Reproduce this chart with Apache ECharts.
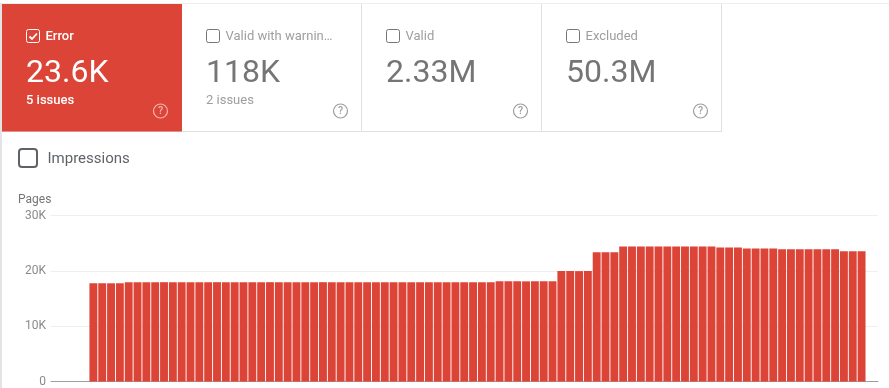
<!DOCTYPE html>
<html>
<head>
<meta charset="utf-8">
<style>html,body{margin:0;padding:0;background:#fff}#c{width:889px;height:388px}</style>
<script src="https://cdn.jsdelivr.net/npm/echarts@6/dist/echarts.min.js"></script>
</head>
<body>
<div id="c"></div>
<script>
const cardLabels = ['Error', 'Valid with warnin…', 'Valid', 'Excluded'];
const cardValues = ['23.6K', '118K', '2.33M', '50.3M'];
const cardNotes = ['5 issues', '2 issues', '', ''];
const yAxisTitle = 'Pages';
const yTickLabels = {0: '0', 10000: '10K', 20000: '20K', 30000: '30K'};
const pages = [
  17750,17750,17750,17750,
  17950,17950,17950,17950,17950,17950,17950,17950,17950,17950,17950,17950,17950,17950,
  17950,17950,17950,17950,17950,17950,17950,17950,17950,17950,17950,17950,17950,17950,
  17950,17950,17950,17950,17950,17950,17950,17950,17950,17950,17950,17950,17950,17950,
  18100,18100,18100,18100,18100,18100,18100,
  19950,19950,19950,19950,
  23350,23350,23350,
  24400,24400,24400,24400,24400,24400,24400,24400,24400,24400,24400,
  24200,24200,24200,
  24050,24050,24050,24050,
  23900,23900,23900,23900,23900,23900,23900,
  23550,23550,23550
];

const RED = '#dd4438';
const LINE = '#e0e0e0';
const FONT = 'Roboto, sans-serif';
const els = [];
function rect(x, y, w, h, fill, extra) {
  els.push(Object.assign({type: 'rect', silent: true, shape: {x, y, width: w, height: h},
    style: {fill}}, extra || {}));
}
function text(t, x, y, font, fill) {
  els.push({type: 'text', silent: true, style: {text: t, x, y, font: font + ' ' + FONT, fill,
    textAlign: 'left', textVerticalAlign: 'middle'}});
}
function box(x, y, s, r, stroke, lw) {
  els.push({type: 'rect', silent: true, shape: {x, y, width: s, height: s, r},
    style: {fill: 'transparent', stroke, lineWidth: lw}});
}

rect(0, 3, 889, 1, '#eeeeee');
rect(0, 3, 2, 385, '#e4e4e4');
rect(2, 131, 720, 1, LINE);
rect(2, 4, 180, 127.5, RED);
[361, 541, 721].forEach(x => rect(x, 4, 1, 127, LINE));

cardLabels.forEach((label, i) => {
  const dx = 180 * i, on = i === 0;
  const main = on ? '#ffffff' : '#757575';
  box(26.5 + dx, 29.5, 13, 2, on ? '#ffffff' : '#757575', 1);
  if (on) {
    els.push({type: 'polyline', silent: true, shape: {points: [[29.5, 36.5], [32, 39], [37, 33.5]]},
      style: {stroke: '#fff', lineWidth: 1.8, fill: 'none'}});
  }
  text(label, 45.5 + dx, 37, (on ? '500 ' : '400 ') + '13px', on ? '#ffffff' : '#9e9e9e');
  text(cardValues[i], 26 + dx, 73.5, '400 32px', main);
  if (cardNotes[i]) text(cardNotes[i], 26 + dx, 100.5, (on ? '500 ' : '400 ') + '13px', on ? '#ffffff' : '#9e9e9e');
  const hc = on ? 'rgba(255,255,255,0.6)' : '#9e9e9e';
  els.push({type: 'circle', silent: true, shape: {cx: 160.5 + dx, cy: 111, r: 7},
    style: {fill: 'transparent', stroke: hc, lineWidth: 1.2}});
  els.push({type: 'text', silent: true, style: {text: '?', x: 160.5 + dx, y: 111.5, font: '500 10.5px ' + FONT,
    fill: hc, textAlign: 'center', textVerticalAlign: 'middle'}});
});

box(19, 149, 18, 3, '#5f6368', 2);
text('Impressions', 47.5, 159, '400 15px', '#5f6368');
text(yAxisTitle, 18, 199.5, '400 12px', '#757575');

const chart = echarts.init(document.getElementById('c'), null, {renderer: 'canvas'});
chart.setOption({
  animation: false,
  backgroundColor: '#fff',
  textStyle: {fontFamily: FONT},
  graphic: {elements: els},
  grid: {left: 51, right: 11, top: 215.5, bottom: 6.5},
  xAxis: {
    type: 'value', min: -4.8, max: 88.86,
    axisLine: {show: true, onZero: false, lineStyle: {color: '#9e9e9e', width: 1}},
    axisTick: {show: false}, axisLabel: {show: false}, splitLine: {show: false}
  },
  yAxis: {
    type: 'value', min: 0, max: 30000, interval: 10000,
    axisLine: {show: false}, axisTick: {show: false},
    axisLabel: {color: '#8a8a8a', fontSize: 12, margin: 5, padding: [4, 0, 0, 0], fontFamily: FONT, formatter: v => yTickLabels[v]},
    splitLine: {lineStyle: {color: '#eeeeee', width: 1}}
  },
  series: [{
    type: 'bar', barWidth: 7.9,
    itemStyle: {color: RED},
    data: pages.map((v, i) => [i, v])
  }]
});
</script>
</body>
</html>
